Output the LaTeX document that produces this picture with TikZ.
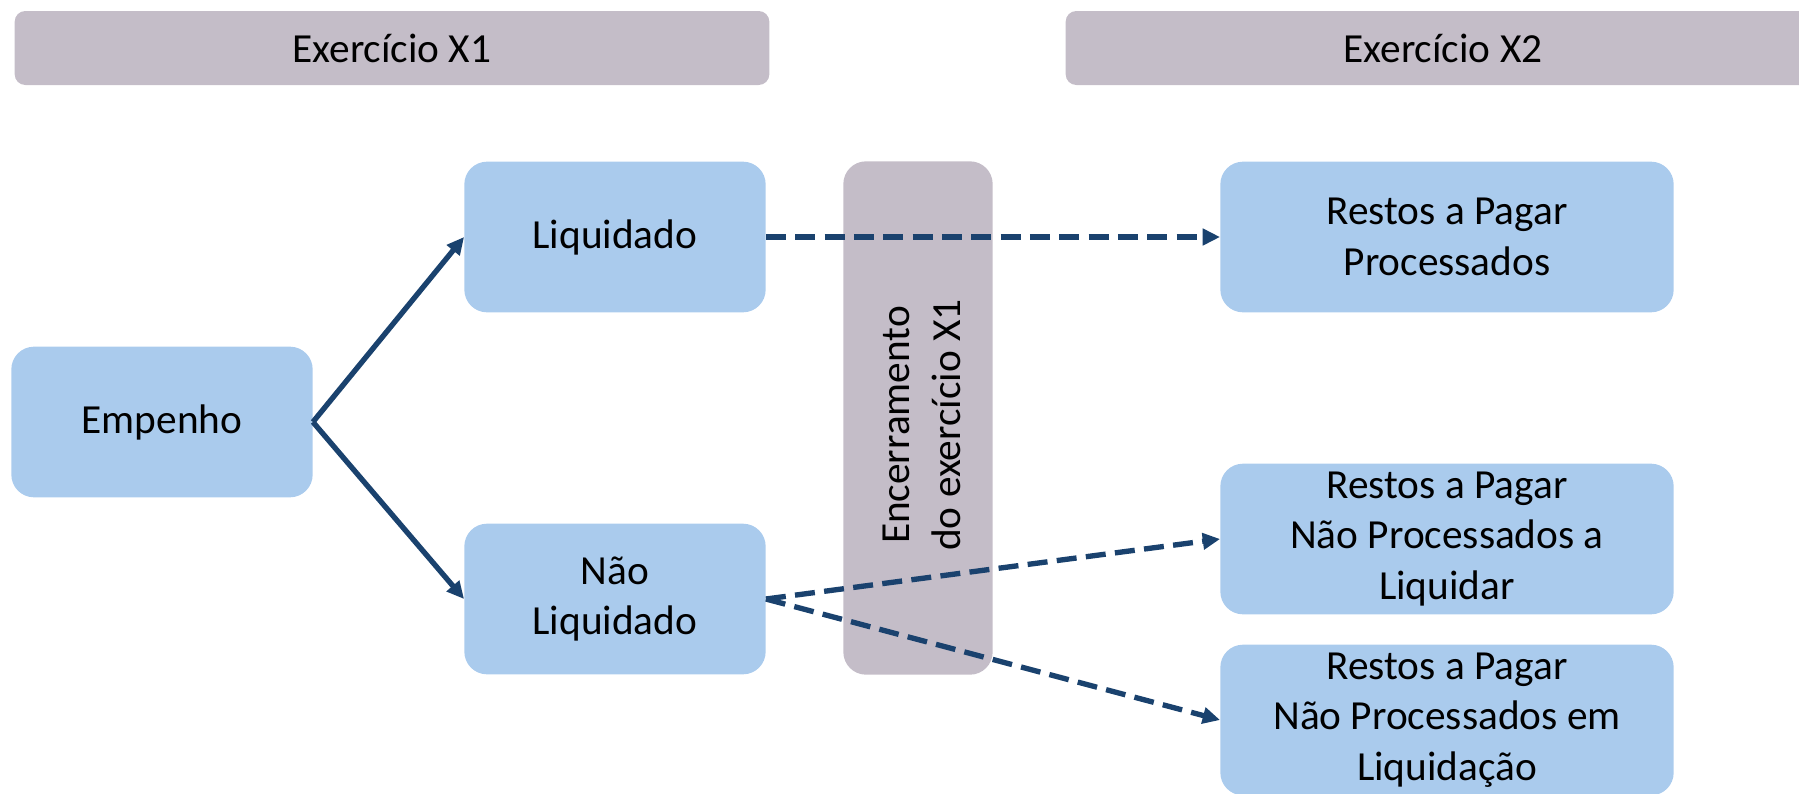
\documentclass[tikz,border=0pt]{standalone}
\usepackage{fontspec}
\setmainfont{Carlito}
\usetikzlibrary{arrows.meta}
\definecolor{boxblue}{HTML}{AACBED}
\definecolor{boxgrey}{HTML}{C4BDC8}
\definecolor{arrowblue}{HTML}{1A426E}
\begin{document}
\begin{tikzpicture}[x=0.75pt, y=-0.75pt,
  every node/.style={font=\fontsize{31}{38}\selectfont, align=center, inner sep=0pt},
  header/.style={rectangle, rounded corners=8pt, fill=boxgrey, minimum width=566pt, minimum height=55.5pt},
  stage/.style={rectangle, rounded corners=17pt, fill=boxblue, minimum width=226pt, minimum height=113pt},
  rpbox/.style={rectangle, rounded corners=17pt, fill=boxblue, minimum width=340pt, minimum height=113pt},
  flow/.style={-{Triangle[length=13pt, width=12pt]}, line width=4pt, draw=arrowblue},
  carry/.style={flow, dash pattern=on 15pt off 7pt}]
\useasboundingbox (0,0) rectangle (1799,793);

\node[header] (x1) at (392,48) {Exercício X1};
\node[header] (x2) at (1443,48) {Exercício X2};

\node[rectangle, rounded corners=17pt, fill=boxgrey, minimum width=112pt, minimum height=385pt] (close) at (918,418) {};
\node[rotate=90] (closetext) at (922,425) {Encerramento\\do exercício X1};

\node[stage] (emp) at (162,422) {Empenho};
\node[stage] (liq) at (615,237) {Liquidado};
\node[stage] (naoliq) at (615,599) {Não\\Liquidado};

\node[rpbox] (rpp) at (1447,237) {Restos a Pagar\\Processados};
\node[rpbox] (rpnpa) at (1447,539) {Restos a Pagar\\Não Processados a\\Liquidar};
\node[rpbox] (rpnpe) at (1447,720) {Restos a Pagar\\Não Processados em\\Liquidação};

\draw[flow] (emp.east) -- (liq.west);
\draw[flow] (emp.east) -- (naoliq.west);

\draw[carry] (liq.east) -- (rpp.west);
\draw[carry] (naoliq.east) -- (rpnpa.west);
\draw[carry] (naoliq.east) -- (rpnpe.west);

\end{tikzpicture}
\end{document}
